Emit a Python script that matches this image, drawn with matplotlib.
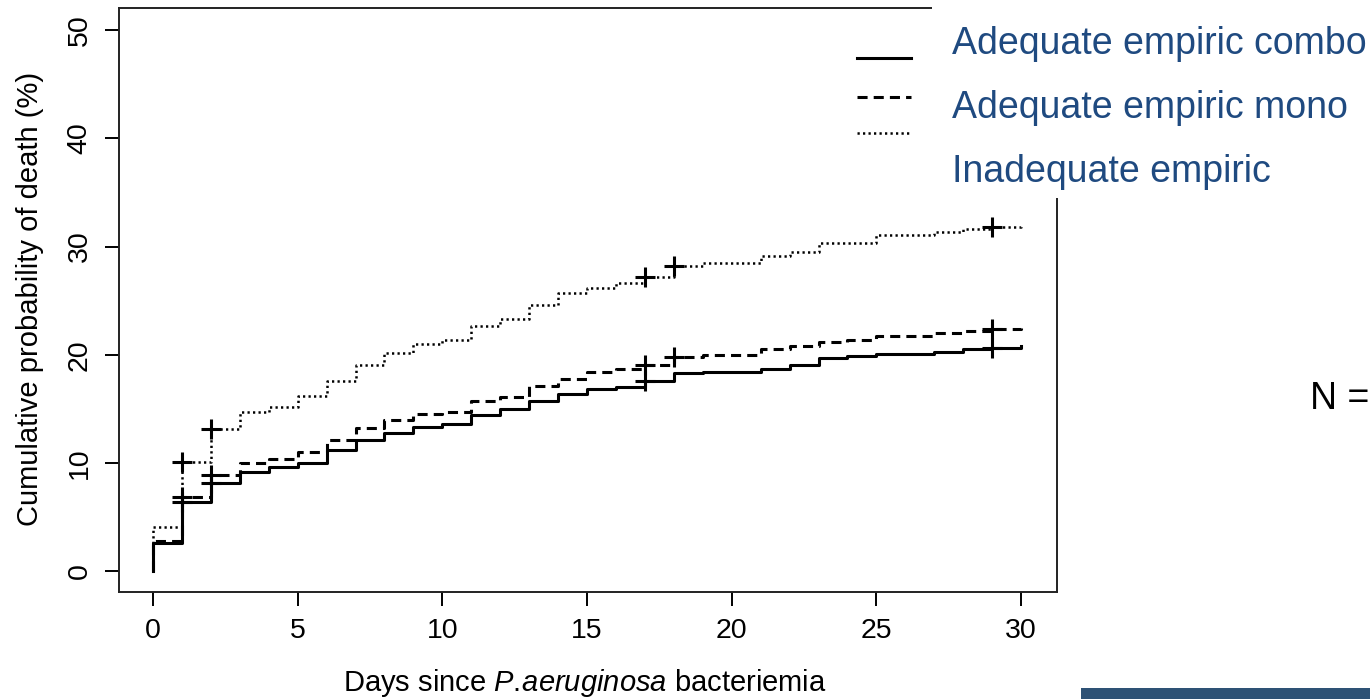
import matplotlib
matplotlib.use("Agg")
import matplotlib.pyplot as plt
from matplotlib.lines import Line2D
from matplotlib.patches import Rectangle

plt.rcParams['font.family'] = ['Liberation Sans', 'DejaVu Sans']
plt.rcParams['mathtext.fontset'] = 'custom'
plt.rcParams['mathtext.rm'] = 'Liberation Sans'
plt.rcParams['mathtext.it'] = 'Liberation Sans:italic'

# Kaplan-Meier step values (cumulative % death) at each day 0..30
days = list(range(0, 31))
combo = [2.6, 6.4, 8.2, 9.2, 9.6, 10.0, 11.2, 12.1, 12.8, 13.3,
         13.6, 14.4, 15.0, 15.7, 16.4, 16.8, 17.0, 17.6, 18.3, 18.4,
         18.4, 18.7, 19.1, 19.7, 19.9, 20.1, 20.1, 20.3, 20.5, 20.6, 20.8]
mono = [2.8, 6.9, 8.9, 10.0, 10.4, 11.0, 12.1, 13.2, 14.0, 14.5,
        14.7, 15.7, 16.1, 17.1, 17.8, 18.4, 18.7, 19.1, 19.8, 20.0,
        20.0, 20.5, 20.8, 21.2, 21.4, 21.7, 21.7, 22.0, 22.2, 22.4, 22.5]
inadequate = [4.1, 10.1, 13.1, 14.7, 15.2, 16.2, 17.6, 19.1, 20.2, 21.0,
              21.4, 22.7, 23.3, 24.6, 25.7, 26.2, 26.6, 27.2, 28.2, 28.5,
              28.5, 29.1, 29.5, 30.3, 30.3, 31.05, 31.05, 31.3, 31.6, 31.8, 31.9]

# censoring marks (days)
cens_combo = [1, 2, 17, 29]
cens_mono = [1, 2, 17, 18, 29]
cens_inadequate = [1, 2, 17, 18, 29]

legend_labels = ["Adequate empiric combo", "Adequate empiric mono", "Inadequate empiric"]

W, H = 1370, 699
fig = plt.figure(figsize=(W / 100, H / 100), dpi=100)
ax = fig.add_axes([119 / W, 1 - 592 / H, 938 / W, 584 / H])

series = [
    (combo, cens_combo, dict(linestyle='-', linewidth=2.2)),
    (mono, cens_mono, dict(linestyle=(0, (3.3, 2.0)), linewidth=2.2)),
    (inadequate, cens_inadequate, dict(linestyle=(0, (0.9, 1.3)), linewidth=1.8)),
]
for vals, cens, style in series:
    x = [0] + days
    y = [0] + vals
    ax.step(x, y, where='post', color='black', **style)
    ax.plot(cens, [vals[d] for d in cens], linestyle='none', marker='+',
            markersize=15, markeredgewidth=2.2, color='black')

ax.set_xlim(-1.175, 31.24)
ax.set_ylim(-1.91, 52.03)
ax.set_xticks([0, 5, 10, 15, 20, 25, 30])
ax.set_yticks([0, 10, 20, 30, 40, 50])
ax.tick_params(direction='out', length=10, width=1.4, pad=9, labelsize=20.5)
for lab in ax.get_yticklabels():
    lab.set_rotation(90)
    lab.set_va('center')
for sp in ax.spines.values():
    sp.set_linewidth(1.4)
    sp.set_color('#222222')

fig.text(30 / W, 1 - 299 / H, "Cumulative probability of death (%)",
         rotation=90, ha='center', va='center', fontsize=21)
fig.text(585 / W, 1 - 683 / H, r"Days since $\mathit{P.\!aeruginosa}$ bacteriemia",
         ha='center', va='center', fontsize=21)

# legend line samples
for ypix, style in zip([58, 97, 133], [s[2] for s in series]):
    fig.add_artist(Line2D([857 / W, 911 / W], [1 - ypix / H, 1 - ypix / H],
                          color='black', transform=fig.transFigure, **style))

# white overlay with blue legend text
fig.add_artist(Rectangle((932 / W, 1 - 198 / H), (W - 932) / W, 198 / H,
                         transform=fig.transFigure, facecolor='white',
                         edgecolor='none', zorder=5))
for ypix, lab in zip([54, 118, 182], legend_labels):
    fig.text(952 / W, 1 - ypix / H, lab, ha='left', va='baseline',
             fontsize=27, color='#1F4A80', zorder=6)

fig.text(1310 / W, 1 - 399 / H, "N =", ha='left', va='center',
         fontsize=27, color='black')

fig.add_artist(Rectangle((1081 / W, 0), (W - 1081) / W, 11 / H,
                         transform=fig.transFigure, facecolor='#2E5275',
                         edgecolor='none', zorder=5))

fig.savefig("out.png", dpi=100)
